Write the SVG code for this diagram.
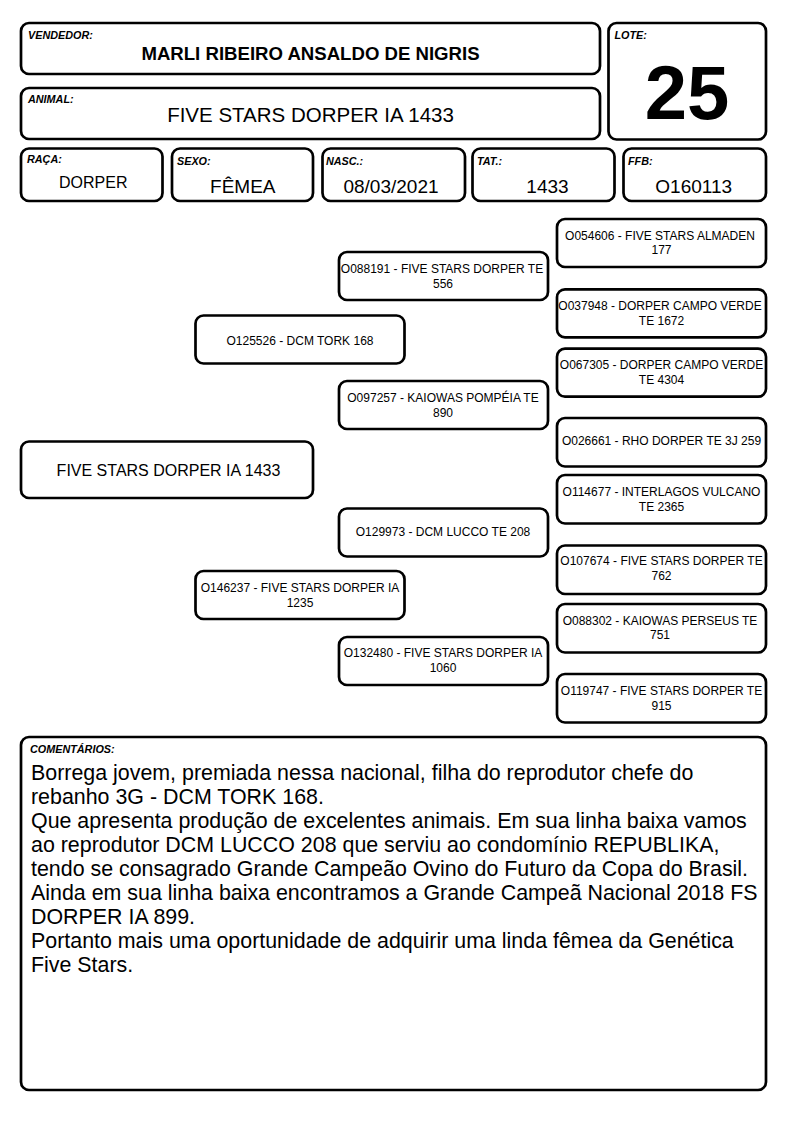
<svg xmlns="http://www.w3.org/2000/svg" width="794" height="1123" viewBox="0 0 794 1123">
<style>
.box{fill:#fff;stroke:#000;stroke-width:2.7}
text{font-family:"Liberation Sans",Arial,Helvetica,sans-serif;fill:#000}
.lbl{font-size:10.8px;font-weight:bold;font-style:italic}
.val{font-size:19px;text-anchor:middle}
.ped{font-size:12px;text-anchor:middle}
.cm{font-size:21.4px}
</style>
<rect width="794" height="1123" fill="#fff"/>

<g id="vendedor">
<rect class="box" x="21" y="23" width="579" height="51" rx="8"/>
<text class="lbl" x="28" y="38.5">VENDEDOR:</text>
<text x="310.5" y="60.3" font-size="18.6" font-weight="bold" text-anchor="middle">MARLI RIBEIRO ANSALDO DE NIGRIS</text>
</g>
<g id="lote">
<rect class="box" x="608.5" y="23" width="157.5" height="116.5" rx="8"/>
<text class="lbl" x="614.5" y="38.5">LOTE:</text>
<text x="687" y="119" font-size="76" font-weight="bold" text-anchor="middle">25</text>
</g>
<g id="animal">
<rect class="box" x="21" y="88" width="579" height="51" rx="8"/>
<text class="lbl" x="28" y="103">ANIMAL:</text>
<text x="310.5" y="122" font-size="20.5" text-anchor="middle">FIVE STARS DORPER IA 1433</text>
</g>
<g id="raca">
<rect class="box" x="21" y="148.5" width="141.5" height="52.5" rx="8"/>
<text class="lbl" x="27" y="163">RAÇA:</text>
<text x="93.3" y="188" font-size="16" text-anchor="middle">DORPER</text>
</g>
<g id="sexo">
<rect class="box" x="172" y="148.5" width="141" height="52.5" rx="8"/>
<text class="lbl" x="177" y="164.5">SEXO:</text>
<text class="val" x="242.8" y="193">FÊMEA</text>
</g>
<g id="nasc">
<rect class="box" x="322.5" y="148.5" width="142.5" height="52.5" rx="8"/>
<text class="lbl" x="326" y="164.5">NASC.:</text>
<text class="val" x="391" y="193">08/03/2021</text>
</g>
<g id="tat">
<rect class="box" x="472.5" y="148.5" width="142" height="52.5" rx="8"/>
<text class="lbl" x="477" y="164.5">TAT.:</text>
<text class="val" x="547.5" y="193">1433</text>
</g>
<g id="ffb">
<rect class="box" x="623.5" y="148.5" width="142.5" height="52.5" rx="8"/>
<text class="lbl" x="628" y="164.5">FFB:</text>
<text class="val" x="693.7" y="193">O160113</text>
</g>

<g id="ped-root">
<rect class="box" x="21" y="441.5" width="292" height="56.5" rx="8"/>
<text x="168.5" y="476" font-size="16" text-anchor="middle">FIVE STARS DORPER IA 1433</text>
</g>

<g id="ped-sire">
<rect class="box" x="195.5" y="315.5" width="209" height="48" rx="8"/>
<text class="ped" x="300" y="345">O125526 - DCM TORK 168</text>
</g>
<g id="ped-dam">
<rect class="box" x="195.5" y="571" width="209" height="48" rx="8"/>
<text class="ped" x="300" y="592.3">O146237 - FIVE STARS DORPER IA</text>
<text class="ped" x="300" y="606.7">1235</text>
</g>

<g id="ped-ss">
<rect class="box" x="339" y="252" width="209" height="48" rx="8"/>
<text class="ped" x="442" y="273.3">O088191 - FIVE STARS DORPER TE</text>
<text class="ped" x="443" y="287.7">556</text>
</g>
<g id="ped-sd">
<rect class="box" x="339" y="381" width="209" height="48" rx="8"/>
<text class="ped" x="443" y="402.3">O097257 - KAIOWAS POMPÉIA TE</text>
<text class="ped" x="443" y="416.7">890</text>
</g>
<g id="ped-ds">
<rect class="box" x="339" y="508.5" width="209" height="48" rx="8"/>
<text class="ped" x="443" y="536">O129973 - DCM LUCCO TE 208</text>
</g>
<g id="ped-dd">
<rect class="box" x="339" y="637" width="209" height="48" rx="8"/>
<text class="ped" x="443" y="657.3">O132480 - FIVE STARS DORPER IA</text>
<text class="ped" x="443" y="671.7">1060</text>
</g>

<g id="ped-sss">
<rect class="box" x="557" y="219" width="209" height="48" rx="8"/>
<text class="ped" x="660" y="239.7">O054606 - FIVE STARS ALMADEN</text>
<text class="ped" x="661.5" y="253.7">177</text>
</g>
<g id="ped-ssd">
<rect class="box" x="557" y="289.3" width="209" height="48" rx="8"/>
<text class="ped" x="660" y="310.3">O037948 - DORPER CAMPO VERDE</text>
<text class="ped" x="661.5" y="324.7">TE 1672</text>
</g>
<g id="ped-sds">
<rect class="box" x="557" y="348.7" width="209" height="48" rx="8"/>
<text class="ped" x="661.5" y="368.7">O067305 - DORPER CAMPO VERDE</text>
<text class="ped" x="661.5" y="383.7">TE 4304</text>
</g>
<g id="ped-sdd">
<rect class="box" x="557" y="418" width="209" height="48.5" rx="8"/>
<text class="ped" x="661.5" y="445.3">O026661 - RHO DORPER TE 3J 259</text>
</g>
<g id="ped-dss">
<rect class="box" x="557" y="475" width="209" height="48.5" rx="8"/>
<text class="ped" x="661.5" y="495.7">O114677 - INTERLAGOS VULCANO</text>
<text class="ped" x="661.5" y="510.7">TE 2365</text>
</g>
<g id="ped-dsd">
<rect class="box" x="557" y="545.5" width="209" height="48.5" rx="8"/>
<text class="ped" x="661.5" y="565.3">O107674 - FIVE STARS DORPER TE</text>
<text class="ped" x="661.5" y="579.7">762</text>
</g>
<g id="ped-dds">
<rect class="box" x="557" y="604" width="209" height="48.5" rx="8"/>
<text class="ped" x="660" y="624.7">O088302 - KAIOWAS PERSEUS TE</text>
<text class="ped" x="660" y="638.7">751</text>
</g>
<g id="ped-ddd">
<rect class="box" x="557" y="674" width="209" height="48.5" rx="8"/>
<text class="ped" x="661.5" y="694.7">O119747 - FIVE STARS DORPER TE</text>
<text class="ped" x="661.5" y="709.7">915</text>
</g>

<g id="comentarios">
<rect class="box" x="21" y="737" width="745" height="353" rx="8"/>
<text class="lbl" x="30" y="752.5">COMENTÁRIOS:</text>
<text class="cm" x="31" y="779.5">Borrega jovem, premiada nessa nacional, filha do reprodutor chefe do</text>
<text class="cm" x="31" y="803.6">rebanho 3G - DCM TORK 168.</text>
<text class="cm" x="31" y="827.7">Que apresenta produção de excelentes animais. Em sua linha baixa vamos</text>
<text class="cm" x="31" y="851.8">ao reprodutor DCM LUCCO 208 que serviu ao condomínio REPUBLIKA,</text>
<text class="cm" x="31" y="875.9">tendo se consagrado Grande Campeão Ovino do Futuro da Copa do Brasil.</text>
<text class="cm" x="31" y="900">Ainda em sua linha baixa encontramos a Grande Campeã Nacional 2018 FS</text>
<text class="cm" x="31" y="924.1">DORPER IA 899.</text>
<text class="cm" x="31" y="948.2">Portanto mais uma oportunidade de adquirir uma linda fêmea da Genética</text>
<text class="cm" x="31" y="972.3">Five Stars.</text>
</g>
</svg>
